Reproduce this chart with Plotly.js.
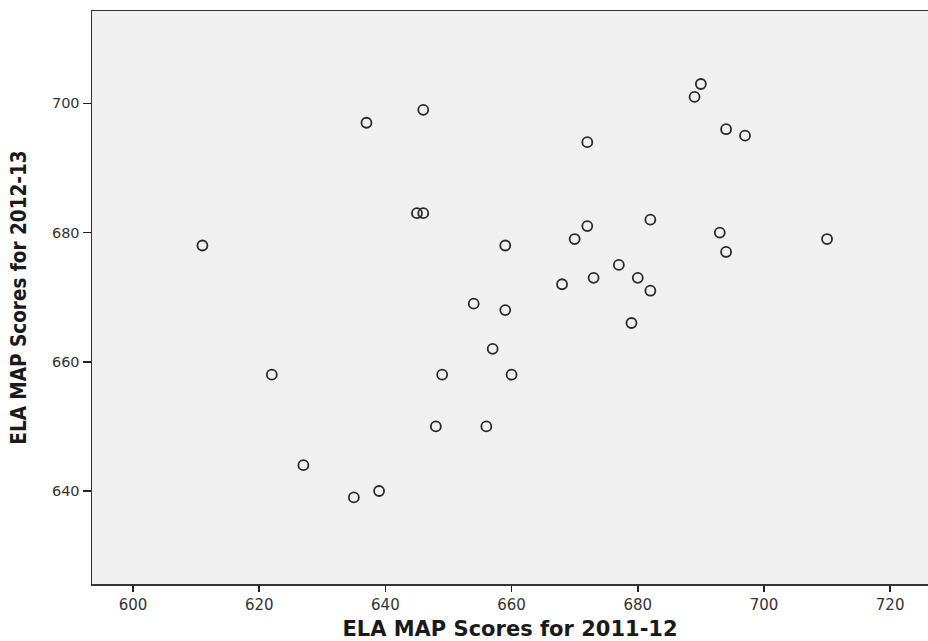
<!DOCTYPE html>
<html>
<head>
<meta charset="utf-8">
<script src="https://cdn.plot.ly/plotly-3.0.1.min.js"></script>
<style>html,body{margin:0;padding:0;background:#fff;}#chart{width:928px;height:641px;}</style>
</head>
<body>
<div id="chart"></div>
<script>
// ELA MAP scores
var scores2011_12 = [611, 622, 627, 635, 639, 637, 646, 645, 646, 649, 648, 654, 659, 659, 657, 660, 656, 668, 670, 672, 672, 673, 677, 680, 682, 682, 679, 689, 690, 694, 697, 693, 694, 710];
var scores2012_13 = [678, 658, 644, 639, 640, 697, 699, 683, 683, 658, 650, 669, 678, 668, 662, 658, 650, 672, 679, 681, 694, 673, 675, 673, 682, 671, 666, 701, 703, 696, 695, 680, 677, 679];
var xTicks = [600, 620, 640, 660, 680, 700, 720];
var yTicks = [640, 660, 680, 700];

var trace = {
  x: scores2011_12,
  y: scores2012_13,
  type: 'scatter',
  mode: 'markers',
  marker: {symbol: 'circle-open', size: 10, color: '#2a2a2a', line: {width: 1.8, color: '#2a2a2a'}},
  hoverinfo: 'x+y',
  showlegend: false
};

var layout = {
  width: 928, height: 641,
  margin: {l: 92, r: 0, t: 11, b: 57},
  paper_bgcolor: '#ffffff',
  plot_bgcolor: '#f0f0f0',
  font: {family: 'DejaVu Sans, sans-serif', color: '#333333', size: 15},
  xaxis: {
    range: [593.5, 726],
    tickvals: xTicks, ticktext: xTicks.map(String),
    ticks: 'outside', ticklen: 6, tickwidth: 1.5, tickcolor: '#222',
    showgrid: false, zeroline: false,
    showline: true, linecolor: '#333', linewidth: 1.5, mirror: true,
    tickfont: {family: 'DejaVu Sans, sans-serif', size: 15, color: '#333'},
    title: {text: 'ELA MAP Scores for 2011-12', standoff: 11,
      font: {family: 'DejaVu Sans, sans-serif', size: 21, color: '#1a1a1a', weight: 'bold'}}
  },
  yaxis: {
    range: [625.6, 714.3],
    tickvals: yTicks, ticktext: yTicks.map(String),
    ticks: 'outside', ticklen: 8, tickwidth: 1.5, tickcolor: '#222',
    showgrid: false, zeroline: false,
    showline: true, linecolor: '#333', linewidth: 1.5, mirror: true,
    tickfont: {family: 'DejaVu Sans, sans-serif', size: 14.5, color: '#333'},
    title: {text: 'ELA MAP Scores for 2012-13', standoff: 19,
      font: {family: 'DejaVu Sans Condensed, DejaVu Sans, sans-serif', size: 20.5, color: '#1a1a1a', weight: 'bold'}}
  }
};

Plotly.newPlot('chart', [trace], layout, {displayModeBar: false, staticPlot: true});
</script>
</body>
</html>
